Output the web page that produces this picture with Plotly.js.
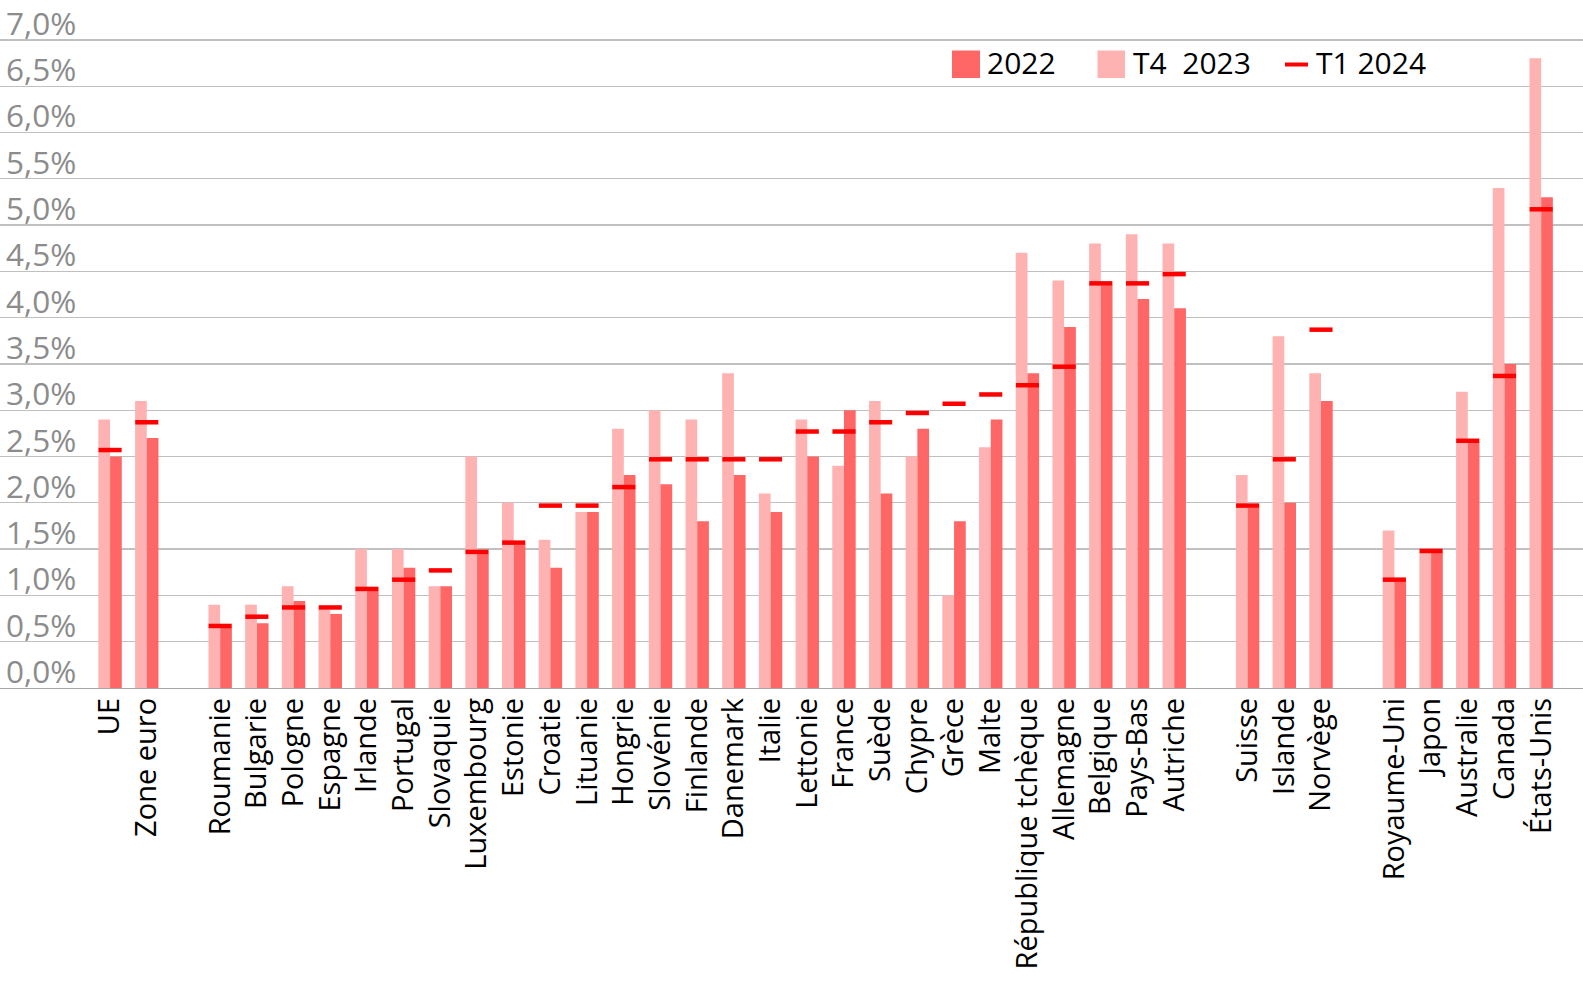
<!DOCTYPE html>
<html><head><meta charset="utf-8">
<script src="https://cdn.plot.ly/plotly-3.0.1.min.js"></script>
<style>html,body{margin:0;padding:0;background:#fff}#chart{width:1583px;height:988px}</style>
</head><body><div id="chart"></div>
<script>
const categories = ['UE','Zone euro',' ','Roumanie','Bulgarie','Pologne','Espagne','Irlande','Portugal','Slovaquie','Luxembourg','Estonie','Croatie','Lituanie','Hongrie','Slovénie','Finlande','Danemark','Italie','Lettonie','France','Suède','Chypre','Grèce','Malte','République tchèque','Allemagne','Belgique','Pays-Bas','Autriche','  ','Suisse','Islande','Norvège','   ','Royaume-Uni','Japon','Australie','Canada','États-Unis'];

const values2022 = [2.5,2.7,null,0.65,0.7,0.94,0.8,1.05,1.3,1.1,1.45,1.55,1.3,1.9,2.3,2.2,1.8,2.3,1.9,2.5,3.0,2.1,2.8,1.8,2.9,3.4,3.9,4.35,4.2,4.1,null,1.95,2.0,3.1,null,1.15,1.46,2.65,3.5,5.3];

const valuesT42023 = [2.9,3.1,null,0.9,0.9,1.1,0.85,1.5,1.5,1.1,2.5,2.0,1.6,1.9,2.8,3.0,2.9,3.4,2.1,2.9,2.4,3.1,2.5,1.0,2.6,4.7,4.4,4.8,4.9,4.8,null,2.3,3.8,3.4,null,1.7,1.46,3.2,5.4,6.8];

const valuesT12024 = [2.57,2.87,null,0.67,0.77,0.87,0.87,1.07,1.17,1.27,1.47,1.57,1.97,1.97,2.17,2.47,2.47,2.47,2.47,2.77,2.77,2.87,2.97,3.07,3.17,3.27,3.47,4.37,4.37,4.47,null,1.97,2.47,3.87,null,1.17,1.48,2.67,3.37,5.17];

const seriesNames = ['2022','T4\u00a0 2023','T1 2024'];
const yTickVals = [0,0.5,1,1.5,2,2.5,3,3.5,4,4.5,5,5.5,6,6.5,7];
const yTickText = ['0,0%','0,5%','1,0%','1,5%','2,0%','2,5%','3,0%','3,5%','4,0%','4,5%','5,0%','5,5%','6,0%','6,5%','7,0%'];

const colDark = '#FF6666', colLight = '#FFB2B2', colDash = '#FF0000';
const W = 1583, H = 988, mT = 38, mB = 300;
const ph = H - mT - mB;
const px = x => x / W;
const py = y => (H - mB - y) / ph;

const traces = [
  {type:'bar', name: seriesNames[1], x: categories, y: valuesT42023, marker:{color: colLight}, showlegend:false, hoverinfo:'skip'},
  {type:'bar', name: seriesNames[0], x: categories, y: values2022, marker:{color: colDark}, showlegend:false, hoverinfo:'skip'},
  {type:'scatter', mode:'markers', name: seriesNames[2], x: categories, y: valuesT12024,
   marker:{symbol:'line-ew', size:16.5, color: colDash, line:{color: colDash, width:4.5}}, showlegend:false, hoverinfo:'skip'}
];

const legFont = {family:'Open Sans, sans-serif', size:30, color:'#000'};
const legY = 64.5;
const shapes = [
  {type:'rect', xref:'paper', yref:'paper', x0:px(952), x1:px(980), y0:py(78), y1:py(50.5), fillcolor: colDark, line:{width:0}},
  {type:'rect', xref:'paper', yref:'paper', x0:px(1097.5), x1:px(1125), y0:py(78), y1:py(50.5), fillcolor: colLight, line:{width:0}},
  {type:'line', xref:'paper', yref:'paper', x0:px(1285), x1:px(1308), y0:py(legY), y1:py(legY), line:{color: colDash, width:4}}
];
const annotations = [
  {xref:'paper', yref:'paper', x:px(985), y:py(legY-1.5), xanchor:'left', yanchor:'middle', text: seriesNames[0], showarrow:false, font: legFont},
  {xref:'paper', yref:'paper', x:px(1131), y:py(legY-1.5), xanchor:'left', yanchor:'middle', text: seriesNames[1], showarrow:false, font: legFont},
  {xref:'paper', yref:'paper', x:px(1314), y:py(legY-1.5), xanchor:'left', yanchor:'middle', text: seriesNames[2], showarrow:false, font: legFont}
];

const layout = {
  width: W, height: H,
  margin: {l:0, r:0, t:mT, b:mB, pad:0},
  paper_bgcolor:'#fff', plot_bgcolor:'#fff',
  barmode:'group', bargap:0.362, bargroupgap:0,
  showlegend:false,
  hovermode:false,
  font:{family:'Open Sans, sans-serif', color:'#000'},
  xaxis:{
    type:'category', range:[-3.0, 40.14], tickangle:-90,
    tickfont:{family:'Open Sans, sans-serif', size:29, color:'#000'},
    showgrid:false, showline:true, linecolor:'#A6A6A6', linewidth:1.3,
    ticks:'', ticklabelstandoff:-3, fixedrange:true
  },
  yaxis:{
    range:[0, 7.02], tickvals: yTickVals, ticktext: yTickText,
    showgrid:true, gridcolor:'#C0C0C0', gridwidth:1.3, zeroline:false, showline:false,
    ticks:'', ticklabelposition:'inside', ticklabeloverflow:'allow',
    ticklabelshift:-16, ticklabelstandoff:3,
    tickfont:{family:'Open Sans, sans-serif', size:31.5, color:'#8C8C8C'},
    fixedrange:true
  },
  shapes: shapes,
  annotations: annotations
};

Plotly.newPlot('chart', traces, layout, {displayModeBar:false, staticPlot:true});
</script>
</body></html>
